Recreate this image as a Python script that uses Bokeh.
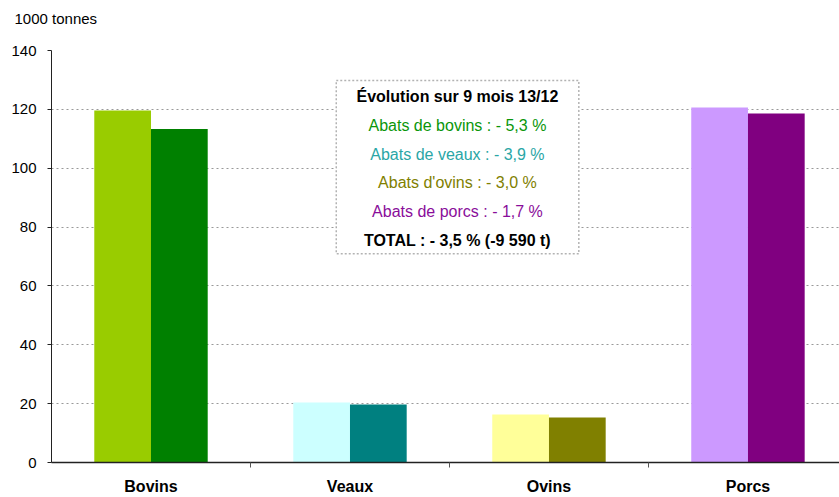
from bokeh.plotting import figure
from bokeh.models import Range1d, FixedTicker, BoxAnnotation, ColumnDataSource
from bokeh.core.properties import value
from bokeh.embed import file_html
from bokeh.resources import INLINE

# ---- data ----
categories = ["Bovins", "Veaux", "Ovins", "Porcs"]
values_2012 = [119.6, 20.4, 16.3, 120.6]
values_2013 = [113.3, 19.7, 15.3, 118.6]
colors_2012 = ["#99CC00", "#CCFFFF", "#FFFF99", "#CC99FF"]
colors_2013 = ["#008000", "#008080", "#808000", "#800080"]
y_ticks = [0, 20, 40, 60, 80, 100, 120, 140]
unit_label = "1000 tonnes"
box_lines = [
    "Évolution sur 9 mois 13/12",
    "Abats de bovins : - 5,3 %",
    "Abats de veaux : - 3,9 %",
    "Abats d'ovins : - 3,0 %",
    "Abats de porcs : - 1,7 %",
    "TOTAL : - 3,5 % (-9 590 t)",
]
box_colors = ["#000000", "#0A960A", "#2AA6A6", "#808000", "#8A0D9A", "#000000"]
box_styles = ["bold", "normal", "normal", "normal", "normal", "bold"]

FONT = "Liberation Sans"
bar_w = 0.285

centers = [i + 0.5 for i in range(len(categories))]
x_2012 = [c - bar_w / 2 for c in centers]
x_2013 = [c + bar_w / 2 for c in centers]

p = figure(width=839, height=497, output_backend="svg", toolbar_location=None,
           x_range=Range1d(0, 3.96), y_range=Range1d(0, 140),
           min_border_left=51, min_border_right=0, min_border_top=50,
           min_border_bottom=34)
p.outline_line_color = None
p.background_fill_color = "white"
p.border_fill_color = "white"

p.vbar(x=x_2012, top=values_2012, width=bar_w, fill_color=colors_2012, line_color=None)
p.vbar(x=x_2013, top=values_2013, width=bar_w, fill_color=colors_2013, line_color=None)

# unit label as title (top left); a blank second line lifts it
p.title.text = unit_label + "\n "
p.title.text_font = FONT
p.title.text_font_size = "15px"
p.title.text_font_style = "normal"
p.title.text_color = "#000000"
p.title.align = "left"
p.title.vertical_align = "top"
p.title.offset = -37
p.title.standoff = 10

# y axis
p.yaxis.ticker = FixedTicker(ticks=y_ticks)
p.yaxis.major_tick_out = 4
p.yaxis.major_tick_in = 0
p.yaxis.minor_tick_out = 0
p.yaxis.minor_tick_in = 0
p.yaxis.axis_line_color = "#222222"
p.yaxis.major_tick_line_color = "#222222"
p.yaxis.major_label_text_font = FONT
p.yaxis.major_label_text_font_size = "15px"
p.yaxis.major_label_text_color = "#000000"
p.yaxis.major_label_standoff = 11

# x axis
p.xaxis.ticker = FixedTicker(ticks=centers, minor_ticks=[1, 2, 3])
p.xaxis.major_label_overrides = {c: name for c, name in zip(centers, categories)}
p.xaxis.major_tick_out = 0
p.xaxis.major_tick_in = 0
p.xaxis.minor_tick_out = 5
p.xaxis.minor_tick_in = 0
p.xaxis.minor_tick_line_color = "#555555"
p.xaxis.axis_line_color = "#222222"
p.xaxis.axis_line_width = 1.5
p.xaxis.major_label_text_font = FONT
p.xaxis.major_label_text_font_size = "16px"
p.xaxis.major_label_text_font_style = "bold"
p.xaxis.major_label_text_color = "#000000"
p.xaxis.major_label_standoff = 10

# grid
p.xgrid.grid_line_color = None
p.ygrid.ticker = FixedTicker(ticks=y_ticks[1:])
p.ygrid.grid_line_color = "#999999"
p.ygrid.grid_line_dash = "2 3"
p.ygrid.grid_line_width = 1

# annotation box
box = BoxAnnotation(left=1.431, right=2.65, top=129.8, bottom=70.9,
                    fill_color="white", fill_alpha=1.0,
                    line_color="#000000", line_dash="2 2", line_width=1.5)
p.add_layout(box)

top_line = 124.4
step = 9.8
src = ColumnDataSource(dict(
    x=[2.04] * len(box_lines),
    y=[top_line - i * step for i in range(len(box_lines))],
    text=box_lines,
    color=box_colors,
    style=box_styles,
))
p.text(x="x", y="y", text="text", source=src, text_color="color",
       text_font_style="style", text_font=value(FONT), text_font_size="16px",
       text_align="center", text_baseline="middle", level="overlay")

open("out.html", "w").write(file_html(p, INLINE))
